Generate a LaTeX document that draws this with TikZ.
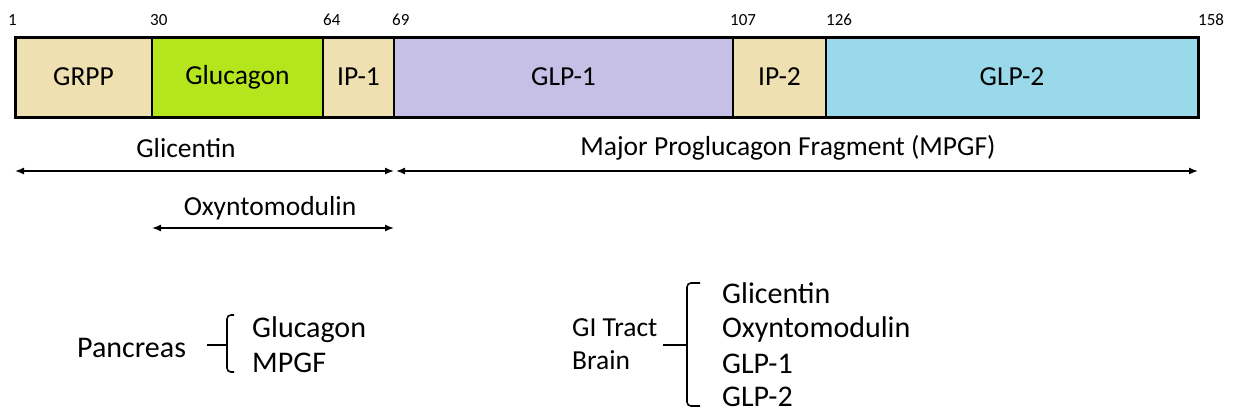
\documentclass[tikz,border=0pt]{standalone}
\usepackage{fontspec}
\setmainfont{Carlito}
\usetikzlibrary{arrows.meta}
\definecolor{wheat}{RGB}{238,224,176}
\definecolor{lime}{RGB}{181,230,29}
\definecolor{lavender}{RGB}{198,191,230}
\definecolor{skyblue}{RGB}{153,217,234}
\tikzset{
  seg/.style={draw=black, line width=1.5pt, inner sep=0pt, outer sep=0pt,
    anchor=north west, minimum height=80pt, font=\fontsize{27.5}{31}\selectfont},
  residue/.style={anchor=base west, inner sep=0pt, font=\fontsize{17}{20}\selectfont},
  span/.style={line width=1.4pt, {Latex[length=9pt,width=7pt]}-{Latex[length=9pt,width=7pt]}},
  spanlabel/.style={inner sep=0pt, font=\fontsize{27.5}{31}\selectfont},
  site/.style={anchor=west, inner sep=0pt, font=\fontsize{27.5}{31}\selectfont},
  product/.style={anchor=west, inner sep=0pt, font=\fontsize{30}{34}\selectfont},
  brace/.style={line width=1.6pt, rounded corners=4pt},
}
\begin{document}
\begin{tikzpicture}[x=1pt, y=-1pt]
\useasboundingbox (0,0) rectangle (1239,413);

% proglucagon segments
\node[seg, fill=wheat,    minimum width=137pt] (grpp) at (15,37)  {GRPP};
\node[seg, fill=lime,     minimum width=171pt] (gcg)  at (152,37) {Glucagon};
\node[seg, fill=wheat,    minimum width=71pt]  (ip1)  at (323,37) {IP-1};
\node[seg, fill=lavender, minimum width=339pt] (glp1) at (394,37) {GLP-1};
\node[seg, fill=wheat,    minimum width=93pt]  (ip2)  at (733,37) {IP-2};
\node[seg, fill=skyblue,  minimum width=372pt] (glp2) at (826,37) {GLP-2};
\draw[line width=3pt] (grpp.north west) rectangle (glp2.south east);

% residue positions
\node[residue] (p1)   at (8,25)    {1};
\node[residue] (p30)  at (150,25)  {30};
\node[residue] (p64)  at (323,25)  {64};
\node[residue] (p69)  at (392,25)  {69};
\node[residue] (p107) at (730,25)  {107};
\node[residue] (p126) at (826,25)  {126};
\node[residue] (p158) at (1198,25) {158};

% cleavage products
\coordinate (gl-a) at (15,171);
\coordinate (gl-b) at (394,171);
\coordinate (mp-a) at (396,171);
\coordinate (mp-b) at (1198,171);
\coordinate (ox-a) at (152,228);
\coordinate (ox-b) at (394,228);
\draw[span] (gl-a) -- (gl-b);
\draw[span] (mp-a) -- (mp-b);
\draw[span] (ox-a) -- (ox-b);
\node[spanlabel] (glic) at (186,148) {Glicentin};
\node[spanlabel] (mpgf) at (788,148) {Major Proglucagon Fragment (MPGF)};
\node[spanlabel] (oxm)  at (270,208) {Oxyntomodulin};

% tissue-specific processing: pancreas
\node[site, font=\fontsize{30}{34}\selectfont] (panc) at (77,348) {Pancreas};
\node[product] (pg) at (252,330) {Glucagon};
\node[product] (pm) at (252,363) {MPGF};
\coordinate (pb-top) at (234,315);
\coordinate (pb-bot) at (234,372);
\coordinate (pb-mid) at (227,345);
\draw[brace] (pb-top) -- (227,315) -- (pb-mid) -- (227,372) -- (pb-bot);
\draw[line width=1.6pt] (207,345) -- (pb-mid);

% tissue-specific processing: gut and brain
\node[site] (gi) at (572,328) {GI Tract};
\node[site] (br) at (572,360) {Brain};
\node[product] (g1) at (722,293) {Glicentin};
\node[product] (g2) at (722,329) {Oxyntomodulin};
\node[product] (g3) at (722,364) {GLP-1};
\node[product] (g4) at (722,397) {GLP-2};
\coordinate (gb-top) at (700,283);
\coordinate (gb-bot) at (700,406);
\coordinate (gb-mid) at (687,345);
\draw[brace] (gb-top) -- (687,283) -- (gb-mid) -- (687,406) -- (gb-bot);
\draw[line width=1.6pt] (663,345) -- (gb-mid);
\end{tikzpicture}
\end{document}
